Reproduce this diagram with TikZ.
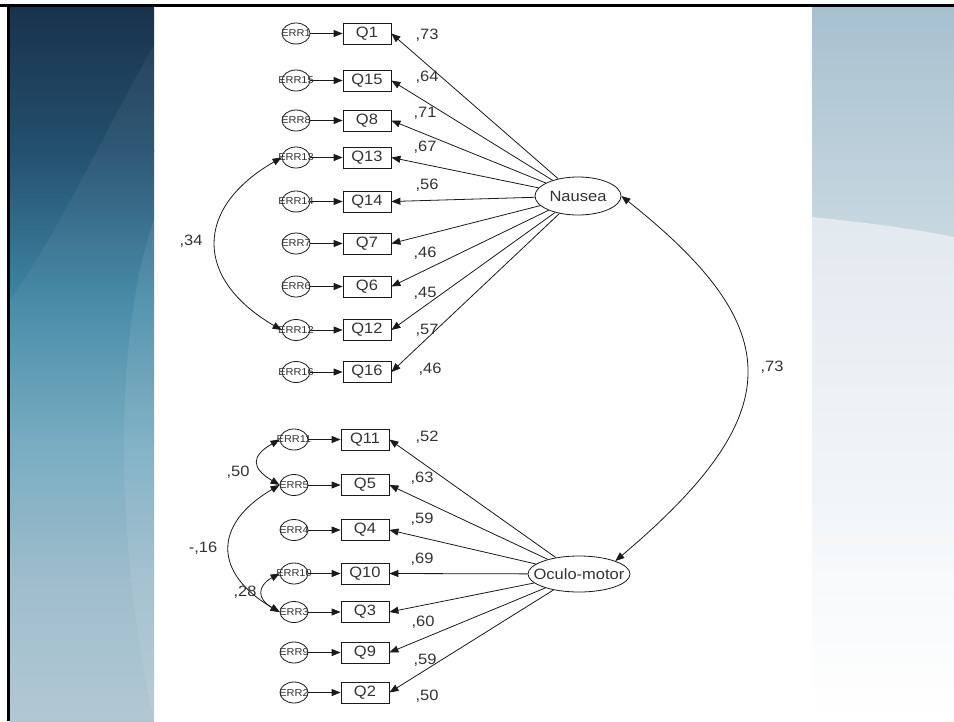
\documentclass[tikz,border=0pt]{standalone}
\usepackage{fontspec}
\setmainfont{Liberation Sans}[FakeStretch=1.1]
\usetikzlibrary{shapes.geometric,arrows.meta}
\definecolor{txt}{HTML}{333333}
\definecolor{lnc}{HTML}{1A1A1A}
\definecolor{la}{HTML}{19324B}
\definecolor{lb}{HTML}{24506F}
\definecolor{lc}{HTML}{3F86A4}
\definecolor{ld}{HTML}{70A8BE}
\definecolor{le}{HTML}{9ABACA}
\definecolor{lf}{HTML}{AEC5D2}
\definecolor{ra}{HTML}{A7C0CF}
\definecolor{rb}{HTML}{C8D8E1}
\definecolor{rc}{HTML}{E2E9EF}
\newcommand{\errtxt}[1]{\makebox[0pt]{\fontsize{10}{11}\selectfont #1}}
\begin{document}
\begin{tikzpicture}[x=1pt,y=-1pt,
  err/.style={ellipse,draw=lnc,line width=0.8pt,minimum width=28pt,minimum height=21pt,inner sep=0pt,text=txt,fill=white},
  qbox/.style={rectangle,draw=lnc,line width=0.8pt,minimum width=48pt,minimum height=21pt,inner sep=0pt,text=txt,font=\fontsize{15}{16}\selectfont,fill=white},
  latent/.style={ellipse,draw=lnc,line width=0.8pt,inner sep=0pt,text=txt,font=\fontsize{15}{16}\selectfont,fill=white},
  lab/.style={inner sep=0pt,text=txt,font=\fontsize{15}{16}\selectfont},
  arr/.style={draw=lnc,line width=0.8pt,-{Triangle[length=9pt,width=7pt]}},
  biarr/.style={draw=lnc,line width=0.8pt,{Triangle[length=9pt,width=7pt]}-{Triangle[length=9pt,width=7pt]}}]
\useasboundingbox (0,0) rectangle (954,721);
% ---------- slide background ----------
\fill[white] (0,0) rectangle (954,721);
\shade[top color=la,bottom color=lb] (10,7) rectangle (154,151);
\shade[top color=lb,bottom color=lc] (10,150) rectangle (154,301);
\shade[top color=lc,bottom color=ld] (10,300) rectangle (154,441);
\shade[top color=ld,bottom color=le] (10,440) rectangle (154,581);
\shade[top color=le,bottom color=lf] (10,580) rectangle (154,721);
\begin{scope}
  \clip (10,7) rectangle (154,721);
  \fill[white,opacity=0.05] (154,45) .. controls (100,140) and (60,230) .. (10,300) -- (10,721) -- (154,721) -- cycle;
  \fill[white,opacity=0.08] (154,220) .. controls (118,320) and (110,520) .. (154,721) -- cycle;
\end{scope}
\shade[top color=ra,bottom color=rb] (812,7) rectangle (954,238);
\begin{scope}
  \clip (812,217) .. controls (860,222) and (910,228) .. (954,237) -- (954,721) -- (812,721) -- cycle;
  \shade[top color=rc,bottom color=white] (812,215) rectangle (954,721);
\end{scope}
\fill[black] (0,4) rectangle (954,7);
\fill[black] (7,4) rectangle (10,721);
% ---------- latent variables ----------
\node[latent,minimum width=86pt,minimum height=38pt] (nausea) at (578,196) {Nausea};
\node[latent,minimum width=102pt,minimum height=36pt] (oculo) at (579,574) {\makebox[0pt]{Oculo-motor}};
% ---------- Nausea indicators ----------
\foreach \q/\y in {1/33.5,15/80.5,8/120.5,13/157.5,14/201.5,7/243.5,6/286.5,12/330,16/372}{
  \node[err] (e\q) at (296,\y) {\errtxt{ERR\q}};
  \node[qbox] (q\q) at (367,\y) {Q\q};
  \draw[arr] (e\q.east) -- (q\q.west);
  \draw[arr] (nausea) -- (q\q.east);
}
% ---------- Oculo-motor indicators ----------
\foreach \q/\y in {11/439.5,5/485,4/530,10/573.5,3/612,9/652.5,2/692.5}{
  \node[err] (e\q) at (294,\y) {\errtxt{ERR\q}};
  \node[qbox] (q\q) at (365,\y) {Q\q};
  \draw[arr] (e\q.east) -- (q\q.west);
  \draw[arr] (oculo) -- (q\q.east);
}
% ---------- loading labels ----------
\node[lab] (l1) at (427,35) {,73};
\node[lab] (l15) at (427,77) {,64};
\node[lab] (l8) at (425,113) {,71};
\node[lab] (l13) at (425,147) {,67};
\node[lab] (l14) at (427,185) {,56};
\node[lab] (l7) at (425,253) {,46};
\node[lab] (l6) at (425,293) {,45};
\node[lab] (l12) at (427,330) {,57};
\node[lab] (l16) at (430,369) {,46};
\node[lab] (l11) at (427,437) {,52};
\node[lab] (l5) at (422,478) {,63};
\node[lab] (l4) at (422,519) {,59};
\node[lab] (l10) at (422,559) {,69};
\node[lab] (l3) at (423,622) {,60};
\node[lab] (l9) at (425,660) {,59};
\node[lab] (l2) at (427,696) {,50};
% ---------- covariances ----------
\draw[biarr] (e13.west) .. controls (194,208) and (194,279) .. (e12.west);
\draw[biarr] (e11.west) .. controls (251,456) and (251,468) .. (e5.west);
\draw[biarr] (e5.west) .. controls (213,524) and (213,573) .. (e3.west);
\draw[biarr] (e10.west) .. controls (257,586) and (257,599) .. (e3.west);
\draw[biarr] (nausea.east) .. controls (789,329) and (789,414) .. (oculo.north east);
\node[lab] (c1) at (191,241) {,34};
\node[lab] (c2) at (238,472) {,50};
\node[lab] (c3) at (203,548) {-,16};
\node[lab] (c4) at (245,592) {,28};
\node[lab] (c5) at (772,367) {,73};
\end{tikzpicture}
\end{document}
